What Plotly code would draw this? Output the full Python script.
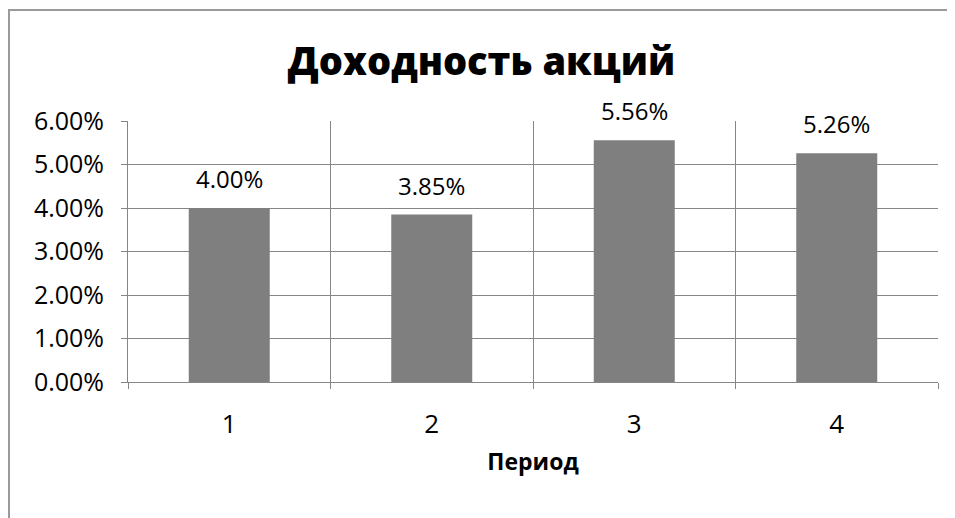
import plotly.graph_objects as go

periods = [1, 2, 3, 4]
tick_labels = ["1", "2", "3", "4"]
returns = [0.04, 0.0385, 0.0556, 0.0526]
label_texts = ["4.00%", "3.85%", "5.56%", "5.26%"]

FONT = "Open Sans"
GRID = "#868686"

fig = go.Figure()
fig.add_trace(go.Bar(
    x=periods, y=returns, width=0.4,
    marker=dict(color="#7f7f7f", line=dict(width=0)),
))

for xv, yv, t in zip(periods, returns, label_texts):
    fig.add_annotation(x=xv, y=yv, text=t, showarrow=False,
                       xanchor="center", yanchor="bottom", yshift=11,
                       font=dict(family=FONT, size=24, color="#000000"))

fig.update_layout(
    width=947, height=510,
    margin=dict(l=120, r=17, t=113, b=136),
    paper_bgcolor="white", plot_bgcolor="white",
    showlegend=False,
    font=dict(family=FONT, size=24, color="#000000"),
    title=dict(text="Доходность акций", x=0.5, xanchor="center",
               y=1 - 54 / 510, yanchor="middle",
               font=dict(family=FONT, size=38, color="#000000", weight=800)),
)

fig.update_xaxes(
    range=[0.5, 4.5], tickmode="array", tickvals=periods, ticktext=tick_labels,
    showgrid=False, ticks="", showline=True, linecolor=GRID, linewidth=1,
    zeroline=False,
    tickfont=dict(family=FONT, size=26), ticklabelstandoff=19,
    minor=dict(tick0=0.5, dtick=1, showgrid=True, gridcolor=GRID,
               gridwidth=1, ticks="outside", ticklen=6, tickcolor=GRID),
    title=dict(text="Период", font=dict(family=FONT, size=23, weight="bold"),
               standoff=13),
)
fig.update_yaxes(
    range=[0, 0.06], dtick=0.01, tickformat=".2%",
    showgrid=True, gridcolor=GRID, gridwidth=1,
    ticks="outside", ticklen=6, tickcolor=GRID,
    showline=True, linecolor=GRID, linewidth=1, zeroline=False,
    tickfont=dict(family=FONT, size=25), ticklabelstandoff=12,
)

# chart-area border (left and top edges visible)
fig.add_shape(type="rect", xref="paper", yref="paper",
              x0=(1 - 120) / 810, x1=1.3, y0=-1.0, y1=(374 - 2) / 261,
              line=dict(color="#9a9a9a", width=2), layer="below")

fig.write_html("out.html")
